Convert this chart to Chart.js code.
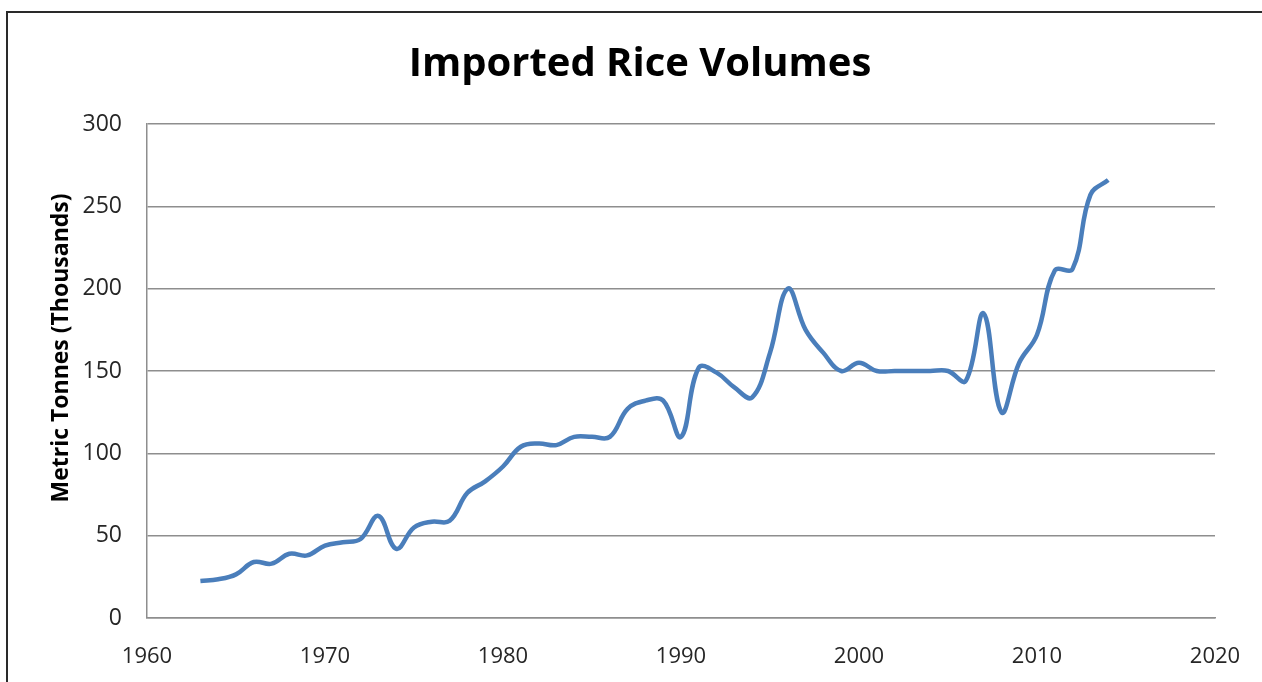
<!DOCTYPE html>
<html>
<head>
<meta charset="utf-8">
<script src="https://cdn.jsdelivr.net/npm/chart.js@4"></script>
<style>
  html, body { margin: 0; padding: 0; background: #fff; overflow: hidden; }
  canvas { display: block; }
</style>
</head>
<body>
<canvas id="chart" width="1262" height="682"></canvas>
<script>
// Annual imported rice volume, thousands of metric tonnes
const years = [
  1963, 1964, 1965, 1966, 1967, 1968, 1969, 1970, 1971, 1972,
  1973, 1974, 1975, 1976, 1977, 1978, 1979, 1980, 1981, 1982,
  1983, 1984, 1985, 1986, 1987, 1988, 1989, 1990, 1991, 1992,
  1993, 1994, 1995, 1996, 1997, 1998, 1999, 2000, 2001, 2002,
  2003, 2004, 2005, 2006, 2007, 2008, 2009, 2010, 2011, 2012,
  2013, 2014
];
const importVolumes = [
  22.5, 23.5, 26.5, 34, 33, 39, 38, 44, 46, 48,
  62, 42, 55, 58.5, 59, 76, 83, 92, 104, 106,
  105, 110, 110, 110, 127, 132, 132, 110, 152, 149,
  140, 134, 161, 200, 175, 161, 150, 155, 150, 150,
  150, 150, 150, 144, 185, 125, 155, 172, 211, 212,
  257, 266
];
const xTickYears = [1960, 1970, 1980, 1990, 2000, 2010, 2020];
const yTickValues = [0, 50, 100, 150, 200, 250, 300];

const chartTitle = 'Imported Rice Volumes';
const yAxisTitle = 'Metric Tonnes (Thousands)';

const points = years.map((yr, i) => ({ x: yr, y: importVolumes[i] }));

const gridGray = '#8e8e8e';
const textColor = '#262626';

// white page with a dark frame along the top and left edges
const framePlugin = {
  id: 'frame',
  beforeDraw(chart) {
    const ctx = chart.ctx;
    ctx.save();
    ctx.fillStyle = '#fff';
    ctx.fillRect(0, 0, chart.width, chart.height);
    ctx.strokeStyle = '#2a2a2a';
    ctx.lineWidth = 2;
    ctx.beginPath();
    ctx.moveTo(7, chart.height);
    ctx.lineTo(7, 12);
    ctx.lineTo(chart.width, 12);
    ctx.stroke();
    ctx.restore();
  }
};

new Chart(document.getElementById('chart'), {
  type: 'line',
  data: {
    datasets: [{
      label: 'Imported rice',
      data: points,
      borderColor: '#4a7ebb',
      borderWidth: 4.5,
      pointRadius: 0,
      tension: 0.4,
      fill: false
    }]
  },
  plugins: [framePlugin],
  options: {
    responsive: false,
    animation: false,
    devicePixelRatio: 1,
    layout: { padding: { left: 18, right: 0, top: 0, bottom: 0 } },
    plugins: {
      legend: { display: false },
      tooltip: { enabled: false },
      title: {
        display: true,
        text: chartTitle,
        color: '#000',
        font: { family: '"Open Sans", sans-serif', size: 40, weight: 'bold', lineHeight: 1.2 },
        padding: { top: 41, bottom: 35 }
      }
    },
    scales: {
      x: {
        type: 'linear',
        min: xTickYears[0],
        max: xTickYears[xTickYears.length - 1],
        afterBuildTicks: s => { s.ticks = xTickYears.map(v => ({ value: v })); },
        // fixed axis band height and a 47px margin to the right of the plot
        afterFit: s => { s.height = 64; s.paddingLeft = 0; s.paddingRight = 47; },
        grid: { display: false, drawTicks: false },
        border: { display: true, color: gridGray, width: 1.5 },
        ticks: {
          color: textColor,
          padding: 26,
          font: { family: '"Open Sans", sans-serif', size: 22 },
          callback: v => String(v)
        }
      },
      y: {
        type: 'linear',
        position: 'left',
        min: yTickValues[0],
        max: yTickValues[yTickValues.length - 1],
        afterBuildTicks: s => { s.ticks = yTickValues.map(v => ({ value: v })); },
        afterFit: s => { s.width = 129; },
        grid: { color: gridGray, lineWidth: 1.5, drawTicks: false },
        border: { display: true, color: gridGray, width: 1.5 },
        ticks: {
          color: textColor,
          padding: 25,
          font: { family: '"Open Sans", sans-serif', size: 23 }
        },
        title: {
          display: true,
          // leading em-spaces lift the rotated label slightly above the axis centre
          text: '\u2003\u2003' + yAxisTitle,
          color: '#000',
          font: { family: '"Open Sans", sans-serif', size: 23, weight: 'bold', lineHeight: 1.2 },
          padding: { top: 30, bottom: 0 }
        }
      }
    }
  }
});
</script>
</body>
</html>
